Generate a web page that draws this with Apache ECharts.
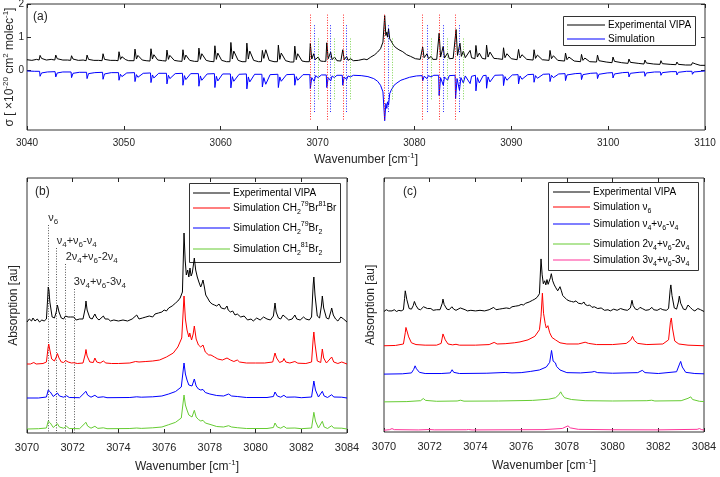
<!DOCTYPE html>
<html><head><meta charset="utf-8">
<script src="https://cdn.jsdelivr.net/npm/echarts@6/dist/echarts.min.js"></script>
<style>html,body{margin:0;padding:0;background:#fff}#c{width:720px;height:477px}</style>
</head><body><div id="c"></div>
<script>
// ---------------- Panel (a): overview, sigma [1e-20 cm2/molec] ----------------
const xTicksA = [3040, 3110, 10];
const yTicksA = [0, 1, 2];
const expA = [
[3040.0,0.32],[3040.5,0.30],[3041.0,0.33],
[3041.25,0.31],[3041.35,0.45],[3041.5,0.36],[3041.65,0.38],[3042.0,0.31],[3042.5,0.33],
[3042.87,0.31],[3042.97,0.46],[3043.12,0.35],[3043.27,0.38],[3043.7,0.31],[3044.2,0.31],
[3044.5,0.30],[3044.6,0.44],[3044.75,0.34],[3044.9,0.37],[3045.3,0.30],[3045.8,0.31],
[3046.1,0.29],[3046.2,0.46],[3046.35,0.33],[3046.5,0.37],[3046.9,0.30],[3047.4,0.30],
[3047.75,0.29],[3047.85,0.50],[3048.0,0.33],[3048.15,0.39],[3048.6,0.30],[3049.1,0.30],
[3049.4,0.29],[3049.5,0.56],[3049.65,0.33],[3049.8,0.41],[3050.2,0.32],[3050.5,0.29],
[3051.05,0.29],[3051.15,0.64],[3051.3,0.34],[3051.45,0.45],[3051.9,0.31],[3052.3,0.29],
[3052.7,0.28],[3052.8,0.65],[3052.95,0.34],[3053.1,0.47],[3053.5,0.31],[3054.0,0.29],
[3054.35,0.28],[3054.45,0.61],[3054.6,0.33],[3054.75,0.45],[3055.2,0.30],[3055.6,0.28],
[3056.0,0.27],[3056.1,0.62],[3056.25,0.32],[3056.4,0.46],[3056.8,0.30],[3057.3,0.27],
[3057.65,0.27],[3057.75,0.67],[3057.9,0.33],[3058.05,0.50],[3058.5,0.30],[3058.9,0.27],
[3059.3,0.26],[3059.4,0.74],[3059.55,0.33],[3059.7,0.52],[3060.1,0.30],[3060.6,0.26],
[3060.95,0.26],[3061.05,0.84],[3061.2,0.34],[3061.35,0.58],[3061.8,0.30],[3062.2,0.26],
[3062.6,0.26],[3062.7,0.82],[3062.85,0.34],[3063.0,0.58],[3063.4,0.30],[3063.9,0.26],
[3064.2,0.26],[3064.3,0.60],[3064.45,0.36],[3064.65,0.62],[3065.0,0.30],[3065.5,0.26],
[3065.85,0.26],[3065.95,0.76],[3066.1,0.33],[3066.25,0.52],[3066.7,0.29],[3067.2,0.25],
[3067.55,0.25],[3067.65,0.73],[3067.8,0.32],[3067.95,0.50],[3068.4,0.28],[3068.8,0.26],
[3069.15,0.26],[3069.25,0.81],[3069.4,0.34],[3069.6,0.50],[3069.75,0.32],[3070.05,0.40],[3070.3,0.28],[3070.6,0.27],
[3070.85,0.27],[3070.95,0.83],[3071.1,0.35],[3071.35,0.55],[3071.5,0.32],[3071.75,0.40],[3072.0,0.29],[3072.4,0.28],
[3072.5,0.28],[3072.6,0.62],[3072.75,0.32],[3073.0,0.42],[3073.15,0.30],[3073.4,0.35],[3073.7,0.29],
[3074.2,0.30],[3074.8,0.34],[3075.1,0.32],[3075.5,0.40],[3075.9,0.47],[3076.2,0.55],[3076.5,0.65],[3076.75,0.85],
[3076.93,1.65],[3077.05,1.05],[3077.15,1.15],[3077.22,1.0],[3077.33,1.25],[3077.45,0.95],[3077.6,0.88],[3077.72,0.92],
[3077.85,0.75],[3078.1,0.68],[3078.4,0.62],[3078.8,0.56],[3079.2,0.47],[3079.6,0.42],[3080.1,0.35],[3080.6,0.33],
[3080.75,0.33],[3080.85,0.70],[3081.0,0.38],[3081.3,0.50],[3081.45,0.35],[3081.72,0.42],[3081.9,0.33],[3082.3,0.33],
[3082.45,0.33],[3082.55,1.12],[3082.7,0.40],[3082.97,0.72],[3083.1,0.37],[3083.42,0.52],[3083.6,0.35],[3084.0,0.36],
[3084.2,0.36],[3084.3,1.23],[3084.45,0.45],[3084.7,0.82],[3084.85,0.42],[3085.05,0.58],[3085.25,0.38],[3085.75,0.60],[3085.9,0.38],[3086.25,0.35],
[3086.35,0.75],[3086.5,0.40],[3086.7,0.52],[3087.0,0.36],[3087.35,0.34],
[3087.45,0.76],[3087.6,0.40],[3087.8,0.55],[3088.2,0.36],[3088.6,0.35],[3089.1,0.33],
[3089.2,0.68],[3089.35,0.38],[3089.55,0.50],[3090.0,0.35],[3090.6,0.32],
[3090.75,0.63],[3090.9,0.37],[3091.1,0.47],[3091.6,0.33],[3092.25,0.31],
[3092.35,0.62],[3092.5,0.36],[3092.7,0.46],[3093.2,0.32],[3093.9,0.30],
[3094.0,0.60],[3094.15,0.35],[3094.35,0.44],[3094.8,0.30],[3095.5,0.28],
[3095.6,0.52],[3095.75,0.32],[3095.95,0.40],[3096.5,0.28],[3097.15,0.26],
[3097.25,0.48],[3097.4,0.30],[3097.6,0.37],[3098.1,0.26],[3098.8,0.25],
[3098.9,0.46],[3099.05,0.29],[3099.25,0.35],[3099.8,0.25],[3100.4,0.23],
[3100.5,0.40],[3100.65,0.27],[3100.85,0.32],[3101.4,0.23],[3102.05,0.21],
[3102.15,0.34],[3102.3,0.24],[3102.5,0.29],[3103.1,0.21],[3103.7,0.19],
[3103.8,0.31],[3103.95,0.22],[3104.15,0.26],[3104.7,0.19],[3105.35,0.18],
[3105.45,0.29],[3105.6,0.20],[3105.8,0.24],[3106.4,0.18],[3107.0,0.17],
[3107.1,0.25],[3107.25,0.18],[3107.45,0.21],[3108.0,0.16],[3108.6,0.16],
[3108.7,0.23],[3108.85,0.17],[3109.05,0.19],[3109.5,0.15],[3110.0,0.15]
];
const simA = [
[3040.0,-0.02],[3040.8,-0.03],
[3041.3,-0.03],[3041.35,-0.18],[3041.5,-0.08],[3041.65,-0.12],[3042.1,-0.05],
[3042.9,-0.04],[3042.97,-0.20],[3043.12,-0.08],[3043.27,-0.13],[3043.7,-0.05],
[3044.55,-0.05],[3044.6,-0.22],[3044.75,-0.09],[3044.9,-0.14],[3045.4,-0.06],
[3046.15,-0.06],[3046.2,-0.25],[3046.35,-0.10],[3046.5,-0.16],[3047.0,-0.07],
[3047.8,-0.06],[3047.85,-0.27],[3048.0,-0.11],[3048.15,-0.17],[3048.7,-0.07],
[3049.45,-0.07],[3049.5,-0.30],[3049.65,-0.12],[3049.8,-0.19],[3050.3,-0.08],
[3051.1,-0.07],[3051.15,-0.34],[3051.3,-0.13],[3051.45,-0.21],[3052.0,-0.09],
[3052.75,-0.08],[3052.8,-0.37],[3052.95,-0.14],[3053.1,-0.23],[3053.6,-0.09],
[3054.4,-0.09],[3054.45,-0.41],[3054.6,-0.15],[3054.75,-0.25],[3055.3,-0.10],
[3056.05,-0.09],[3056.1,-0.45],[3056.25,-0.16],[3056.4,-0.28],[3056.9,-0.10],
[3057.7,-0.10],[3057.75,-0.48],[3057.9,-0.17],[3058.05,-0.30],[3058.6,-0.11],
[3059.35,-0.10],[3059.4,-0.52],[3059.55,-0.18],[3059.7,-0.32],[3060.2,-0.11],
[3061.0,-0.11],[3061.05,-0.53],[3061.2,-0.19],[3061.35,-0.33],[3061.9,-0.12],
[3062.65,-0.11],[3062.7,-0.56],[3062.85,-0.20],[3063.0,-0.35],[3063.5,-0.12],
[3064.25,-0.12],[3064.3,-0.50],[3064.45,-0.22],[3064.65,-0.42],[3065.1,-0.13],
[3065.9,-0.12],[3065.95,-0.52],[3066.1,-0.20],[3066.25,-0.33],[3066.8,-0.13],
[3067.6,-0.12],[3067.65,-0.45],[3067.8,-0.19],[3067.95,-0.30],[3068.5,-0.13],
[3069.2,-0.13],[3069.25,-0.55],[3069.4,-0.22],[3069.65,-0.33],[3069.8,-0.16],[3070.05,-0.22],[3070.4,-0.14],
[3070.9,-0.14],[3070.95,-0.52],[3071.1,-0.22],[3071.36,-0.32],[3071.5,-0.17],[3071.72,-0.22],[3072.0,-0.15],
[3072.55,-0.15],[3072.6,-0.45],[3072.75,-0.20],[3073.0,-0.28],[3073.15,-0.17],[3073.38,-0.20],[3073.7,-0.15],
[3074.5,-0.16],[3075.2,-0.19],[3075.8,-0.25],[3076.2,-0.33],[3076.5,-0.45],[3076.75,-0.65],[3076.93,-1.52],
[3077.05,-1.0],[3077.15,-1.15],[3077.22,-0.95],[3077.33,-1.05],[3077.45,-0.7],[3077.6,-0.6],[3077.73,-0.65],
[3077.9,-0.45],[3078.2,-0.38],[3078.6,-0.30],[3079.0,-0.26],[3079.5,-0.21],[3080.2,-0.17],[3080.8,-0.16],
[3080.85,-0.32],[3081.0,-0.18],[3081.3,-0.25],[3081.45,-0.16],[3081.71,-0.20],[3082.0,-0.15],[3082.5,-0.15],
[3082.55,-0.76],[3082.7,-0.22],[3082.98,-0.45],[3083.1,-0.20],[3083.42,-0.30],[3083.6,-0.16],[3084.2,-0.15],
[3084.25,-0.86],[3084.4,-0.25],[3084.65,-0.60],[3084.8,-0.22],[3085.05,-0.38],[3085.25,-0.17],[3085.75,-0.40],[3085.9,-0.18],[3086.3,-0.15],
[3086.35,-0.62],[3086.5,-0.22],[3086.7,-0.38],[3087.1,-0.16],[3087.4,-0.15],
[3087.45,-0.54],[3087.6,-0.20],[3087.8,-0.35],[3088.3,-0.15],[3089.15,-0.14],
[3089.2,-0.46],[3089.35,-0.19],[3089.55,-0.30],[3090.1,-0.14],[3090.7,-0.13],
[3090.75,-0.41],[3090.9,-0.17],[3091.1,-0.27],[3091.7,-0.13],[3092.3,-0.12],
[3092.35,-0.36],[3092.5,-0.16],[3092.7,-0.24],[3093.3,-0.12],[3093.95,-0.11],
[3094.0,-0.34],[3094.15,-0.15],[3094.35,-0.22],[3094.9,-0.11],[3095.55,-0.10],
[3095.6,-0.31],[3095.75,-0.14],[3095.95,-0.20],[3096.6,-0.10],[3097.2,-0.09],
[3097.25,-0.28],[3097.4,-0.13],[3097.6,-0.18],[3098.2,-0.09],[3098.85,-0.08],
[3098.9,-0.25],[3099.05,-0.12],[3099.25,-0.16],[3099.9,-0.08],[3100.45,-0.07],
[3100.5,-0.23],[3100.65,-0.11],[3100.85,-0.14],[3101.5,-0.07],[3102.1,-0.06],
[3102.15,-0.20],[3102.3,-0.09],[3102.5,-0.12],[3103.2,-0.06],[3103.75,-0.05],
[3103.8,-0.18],[3103.95,-0.08],[3104.15,-0.10],[3104.8,-0.05],[3105.4,-0.05],
[3105.45,-0.15],[3105.6,-0.07],[3105.8,-0.09],[3106.5,-0.04],[3107.05,-0.04],
[3107.1,-0.14],[3107.25,-0.06],[3107.45,-0.08],[3108.1,-0.03],[3108.65,-0.03],
[3108.7,-0.12],[3108.85,-0.05],[3109.05,-0.06],[3109.6,-0.03],[3110.0,-0.02]
];
// assignment markers (dotted) in panel (a): positions and vertical extents
const markRedX   = [3069.25, 3070.95, 3072.60, 3076.93, 3080.85, 3082.55, 3084.25];
const markBlueX  = [3069.65, 3071.36, 3073.00, 3077.33, 3081.30, 3082.98, 3084.65];
const markGreenX = [3070.05, 3071.72, 3073.38, 3077.73, 3081.71, 3083.42, 3085.05];
const markRedY = [1.68, -1.52], markBlueY = [1.36, -1.26], markGreenY = [0.96, -0.91];

// ---------------- Panel (b) & (c): zoomed spectra, absorption [au] ----------------
const xTicksBC = [3070, 3084, 2];
const expB = [
[3070.0,-2],[3070.1,1],[3070.2,-1],[3070.26,2],[3070.35,-1],[3070.45,1],[3070.55,-2],[3070.65,0],[3070.75,-1],[3070.85,1],
[3070.9,20],[3070.93,33],[3070.96,30],[3071.0,18],[3071.1,3],[3071.2,2],
[3071.28,8],[3071.33,15],[3071.4,8],[3071.5,2],[3071.6,1],
[3071.68,4],[3071.73,6],[3071.8,3],[3071.9,3],[3071.95,1],[3072.05,3],[3072.15,0],[3072.3,1],[3072.45,1],
[3072.55,12],[3072.58,19],[3072.63,10],[3072.75,2],[3072.85,1],
[3072.97,6],[3073.05,2],[3073.15,0],
[3073.34,4],[3073.42,1],[3073.55,1],[3073.65,-1],[3073.8,0],[3074.0,-1],[3074.2,0],[3074.4,-1],[3074.6,1],
[3074.8,5],[3074.9,1],[3075.05,2],[3075.2,3],[3075.35,4],[3075.5,3],[3075.6,6],[3075.75,7],[3075.9,8],[3076.0,10],
[3076.1,9],[3076.2,12],[3076.35,14],[3076.5,17],[3076.6,19],[3076.7,22],[3076.8,28],
[3076.87,87],[3076.92,60],[3076.97,45],[3077.03,50],[3077.08,43],[3077.13,52],[3077.18,44],[3077.23,47],[3077.28,55],
[3077.32,62],[3077.38,50],[3077.45,43],[3077.52,38],[3077.6,33],[3077.65,36],[3077.7,40],[3077.76,33],[3077.82,25],
[3077.9,22],[3078.0,18],[3078.1,16],[3078.2,15],[3078.3,14],[3078.4,16],[3078.5,12],[3078.55,13],[3078.65,11],
[3078.75,14],[3078.8,10],[3078.9,8],[3079.0,9],[3079.1,5],[3079.2,6],[3079.35,3],[3079.5,4],[3079.65,0],[3079.8,1],
[3079.9,-1],[3080.05,2],[3080.2,0],[3080.35,3],[3080.5,1],[3080.65,0],[3080.78,4],
[3080.85,17],[3080.9,8],[3081.0,2],[3081.1,1],
[3081.2,5],[3081.24,7],[3081.3,3],[3081.45,0],[3081.6,1],
[3081.72,5],[3081.8,1],[3081.95,0],[3082.1,3],[3082.2,1],[3082.35,0],[3082.45,3],
[3082.52,35],[3082.55,43],[3082.6,25],[3082.7,4],[3082.8,2],
[3082.88,14],[3082.92,24],[3082.98,12],[3083.1,2],[3083.2,1],
[3083.3,9],[3083.33,12],[3083.4,5],[3083.5,1],[3083.6,-1],
[3083.73,3],[3083.77,5],[3083.85,1],[3083.93,-1],[3084.0,-2]
];
const simB7981 = [
[3070.0,0],[3070.15,0],[3070.3,1.5],[3070.4,0],[3070.7,0.5],[3070.85,2],
[3070.92,16],[3070.95,20],[3071.0,14],[3071.08,5],[3071.2,3],
[3071.28,7],[3071.33,10.5],[3071.4,6],[3071.5,2],[3071.6,1.5],
[3071.69,3.5],[3071.73,4.5],[3071.8,2],[3071.95,1],[3072.05,1.3],[3072.2,0.5],[3072.45,1],
[3072.55,10],[3072.58,14.5],[3072.63,8],[3072.75,2],[3072.9,1.5],
[3072.97,6],[3073.05,2],[3073.2,1],
[3073.34,3],[3073.45,1],[3073.7,0.5],[3074.0,0.5],[3074.5,1],[3074.75,2.5],[3074.82,3.5],[3074.9,2],[3075.2,2.5],
[3075.5,3],[3075.8,4],[3076.1,7],[3076.4,11],[3076.6,17],[3076.77,26],
[3076.87,68],[3076.93,45],[3077.0,34],[3077.08,27],[3077.12,31],[3077.2,24],[3077.27,30],[3077.32,38],[3077.4,25],
[3077.5,19],[3077.6,17],[3077.7,19],[3077.8,12],[3077.95,9],[3078.05,9],[3078.2,7],[3078.35,5],[3078.55,4],
[3078.75,6],[3078.82,7],[3078.9,4],[3079.05,2.5],[3079.2,4],[3079.3,2],[3079.6,1],[3080.0,1],[3080.4,1],[3080.75,2],
[3080.85,11],[3080.92,6],[3081.05,1.5],[3081.2,3],[3081.24,5.5],[3081.32,2],[3081.5,1],[3081.72,2.5],[3081.85,0.8],
[3082.2,0.5],[3082.45,2],
[3082.52,25],[3082.55,32],[3082.6,20],[3082.7,3],[3082.85,1.5],
[3082.92,15],[3082.98,6],[3083.1,1],
[3083.33,7],[3083.42,2],[3083.6,0.5],[3083.77,2],[3083.85,0.5],[3084.0,0]
];
const simB7979 = [
[3070.0,0],[3070.5,0],[3070.85,1],[3070.93,8],[3070.96,10],[3071.02,6],[3071.15,1.5],
[3071.33,5],[3071.42,2],[3071.6,0.8],[3071.73,2.3],[3071.85,0.5],[3072.3,0.3],
[3072.58,6.7],[3072.65,3],[3072.8,0.8],[3072.97,2.7],[3073.1,0.6],[3073.34,1.2],[3073.5,0.3],[3074.5,0.5],
[3074.8,1.2],[3075.0,0.8],[3075.5,1.2],[3075.9,2],[3076.2,4],[3076.5,6.5],[3076.75,11],
[3076.87,35],[3076.93,24],[3077.0,18],[3077.08,13],[3077.13,15],[3077.22,12],[3077.32,19],[3077.4,12],[3077.5,9],
[3077.6,8],[3077.7,8.5],[3077.8,5.5],[3078.0,4],[3078.3,2.5],[3078.6,2],[3078.82,4],[3078.95,2],[3079.2,1.5],
[3079.6,0.5],[3080.5,0.5],[3080.78,1.5],
[3080.85,6],[3080.95,2],[3081.1,0.8],[3081.24,2.7],[3081.35,0.8],[3081.72,1],[3082.0,0.3],[3082.45,1],
[3082.55,17],[3082.62,8],[3082.75,1],[3082.92,6.7],[3083.0,2],[3083.15,0.5],[3083.33,3.3],[3083.42,1],
[3083.77,0.8],[3084.0,0]
];
const simB8181 = [
[3070.0,0],[3070.5,0.3],[3070.85,1],[3070.93,8],[3070.96,10],[3071.02,6],[3071.15,1.5],
[3071.33,5.3],[3071.42,2],[3071.6,0.8],[3071.73,2.7],[3071.85,0.5],[3072.3,0.3],
[3072.58,6.7],[3072.65,3],[3072.8,0.8],[3072.97,2.7],[3073.1,0.6],[3073.34,1.2],[3073.5,0.3],[3074.5,0.5],
[3074.8,1],[3075.0,0.6],[3075.5,1.2],[3075.9,2],[3076.2,4.3],[3076.5,6.7],[3076.75,11],
[3076.87,34],[3076.93,24],[3077.0,19],[3077.08,14],[3077.13,14.5],[3077.22,12],[3077.32,18.7],[3077.4,12],
[3077.5,9.5],[3077.6,8],[3077.7,8.7],[3077.8,6],[3078.05,4.3],[3078.3,2.5],[3078.6,2],[3078.82,3.3],[3078.95,2],
[3079.2,1.3],[3079.6,0.5],[3080.5,0.5],[3080.78,1.5],
[3080.85,6],[3080.95,2],[3081.1,0.8],[3081.24,2.7],[3081.35,0.8],[3081.72,1],[3082.0,0.3],[3082.45,1],
[3082.55,16.7],[3082.62,8],[3082.75,1],[3082.92,7.7],[3083.0,2],[3083.15,0.5],[3083.33,3.3],[3083.42,1],
[3083.77,0.8],[3084.0,0]
];
const offsetsB = [113, 69, 35, 4];          // vertical offsets of traces in panel (b)
const yMaxB = 255;

// panel (c) simulated bands (same au scale as panel c axis)
const simC_v6 = [
[3070.0,0],[3070.5,0.5],[3070.85,3],[3070.93,22],[3070.96,31],[3070.99,29],[3071.02,32],[3071.08,15],[3071.2,5],
[3071.4,2],[3071.8,1],[3072.3,1],[3072.5,4],[3072.58,20],[3072.62,21.5],[3072.68,10],[3072.8,3],[3073.0,1.5],
[3073.15,2.5],[3073.3,1],[3074.0,1],[3074.6,2],[3074.82,5.7],[3074.95,3],[3075.3,3.5],[3075.7,5],[3075.95,6.5],
[3076.3,10],[3076.6,16],[3076.8,27],[3076.87,50],[3076.93,89],[3076.98,55],[3077.05,38],[3077.1,30],[3077.17,34],
[3077.25,22],[3077.35,14],[3077.5,10],[3077.7,5],[3078.0,3],[3078.5,3],[3078.8,6],[3078.87,7.3],[3078.95,4],
[3079.3,2],[3080.0,2],[3080.6,4],[3080.8,10],[3080.87,15.8],[3080.95,9],[3081.1,4],[3081.5,2],[3082.2,3],
[3082.45,10],[3082.53,40],[3082.57,47],[3082.62,30],[3082.72,8],[3082.9,3],[3083.3,1],[3084.0,0]
];
const simC_v4 = [
[3070.0,0],[3070.8,0.5],[3071.2,2],[3071.3,8],[3071.36,14],[3071.42,9],[3071.55,3],[3071.8,1],[3072.5,1],
[3072.9,2],[3072.98,7.4],[3073.05,3],[3073.3,1],[3074.5,1.5],[3075.3,2.8],[3075.6,2],[3076.0,2.5],[3076.4,4.5],
[3076.8,7],[3077.1,12],[3077.25,20],[3077.33,40],[3077.4,22],[3077.5,19],[3077.55,13],[3077.7,7],[3078.0,2.5],
[3078.6,2],[3079.1,3.5],[3079.2,4.5],[3079.35,2.5],[3080.0,1.5],[3081.1,2.5],[3081.3,6.3],[3081.42,2.5],
[3082.0,1],[3082.8,4],[3082.93,17],[3082.98,21.5],[3083.05,12],[3083.2,3],[3083.6,1],[3084.0,0.5]
];
const simC_2v4 = [
[3070.0,0],[3071.0,0.5],[3071.6,2],[3071.72,5.7],[3071.82,2.5],[3072.3,1],[3073.2,1.5],[3073.35,2.8],
[3073.5,1.2],[3075.0,1.5],[3076.5,2.5],[3077.2,4.5],[3077.5,7],[3077.65,12],[3077.73,17],[3077.8,12],
[3077.9,7],[3078.2,4],[3078.8,2],[3080.0,1.5],[3081.5,2],[3081.71,2.8],[3081.85,1.5],[3083.0,2],[3083.3,6],
[3083.42,8.5],[3083.5,4],[3083.8,1],[3084.0,0.5]
];
const simC_3v4 = [
[3070.0,0],[3070.25,1],[3070.35,2.8],[3070.45,1],[3071.5,0.5],[3072.0,1.2],[3072.08,1.7],[3072.2,0.6],
[3073.6,0.8],[3073.7,1.2],[3073.85,0.5],[3077.0,1],[3077.8,3],[3078.05,7.4],[3078.15,4],[3078.5,1.5],
[3080.0,0.8],[3082.0,0.6],[3083.7,1.5],[3083.8,2.8],[3083.9,1],[3084.0,0.5]
];
const offsetsC = [206, 146, 98, 51, 3];      // vertical offsets of traces in panel (c)
const yMaxC = 430;

// band-origin annotations in panel (b)
const annoX   = [3070.93, 3071.30, 3071.69, 3072.05];
const annoTop = [208, 185, 169, 144];
const annoText = [
  '{g|ν}{d|6}',
  '{g|ν}{d|4}{g|+ν}{d|6}{g|-ν}{d|4}',
  '{g|2ν}{d|4}{g|+ν}{d|6}{g|-2ν}{d|4}',
  '{g|3ν}{d|4}{g|+ν}{d|6}{g|-3ν}{d|4}'
];

// series names and legend labels (rich text markup)
const namesA = ['Experimental VIPA', 'Simulation'];
const namesB = ['Experimental VIPA', 'Simulation CH2-79Br81Br', 'Simulation CH2-79Br2', 'Simulation CH2-81Br2'];
const namesC = ['Experimental VIPA', 'Simulation v6', 'Simulation v4+v6-v4', 'Simulation 2v4+v6-2v4', 'Simulation 3v4+v6-3v4'];
const legendRich = {
  'Experimental VIPA': '{m|Experimental VIPA}',
  'Simulation': '{m|Simulation}',
  'Simulation CH2-79Br81Br': '{m|Simulation CH}{b|2}{p|79}{m|Br}{p|81}{m|Br}',
  'Simulation CH2-79Br2': '{m|Simulation CH}{b|2}{p|79}{m|Br}{b|2}',
  'Simulation CH2-81Br2': '{m|Simulation CH}{b|2}{p|81}{m|Br}{b|2}',
  'Simulation v6': '{m|Simulation ν}{b|6}',
  'Simulation v4+v6-v4': '{m|Simulation ν}{b|4}{m|+ν}{b|6}{m|-ν}{b|4}',
  'Simulation 2v4+v6-2v4': '{m|Simulation 2ν}{b|4}{m|+ν}{b|6}{m|-2ν}{b|4}',
  'Simulation 3v4+v6-3v4': '{m|Simulation 3ν}{b|4}{m|+ν}{b|6}{m|-3ν}{b|4}'
};
const colBlack = '#000000', colRed = '#ff0000', colBlue = '#0000ff', colGreen = '#66cc33', colPink = '#ff3399';
const colorsA = [colBlack, colBlue];
const colorsB = [colBlack, colRed, colBlue, colGreen];
const colorsC = [colBlack, colRed, colBlue, colGreen, colPink];

// legend box layout (pixels): box [x, y, w, h], sample line x-range, text x, row centres
const legLayoutA = {box: [563, 16, 132, 29], lx: [567, 605], tx: 608, rows: [25, 39]};
const legLayoutB = {box: [189, 183, 151, 79], lx: [193, 230], tx: 233, rows: [193, 208, 228, 249]};
const legLayoutC = {box: [548, 182, 150, 88], lx: [553, 590], tx: 593, rows: [192, 207, 224, 244, 260]};

// ------------------------------------------------------------------
const FONT = 'Liberation Sans, Arial, Helvetica, sans-serif';
const AX = '#262626';
const shift = (pts, off) => pts.map(p => [p[0], p[1] + off]);

function xAx(grid, t, pos, fs, nameGap, margin) {
  const a = {
    type: 'value', gridIndex: grid, position: pos, min: t[0], max: t[1], interval: t[2],
    axisLine: {show: false, onZero: false}, splitLine: {show: false},
    axisTick: {show: true, inside: true, length: 4, lineStyle: {color: AX}},
    axisLabel: {show: pos === 'bottom', fontFamily: FONT, fontSize: fs, color: AX, margin: margin || 5,
      formatter: v => String(v)},
    nameMoveOverlap: false
  };
  if (pos === 'bottom') {
    a.name = '{t|Wavenumber [cm}{s|-1}{t|]}';
    a.nameLocation = 'middle'; a.nameGap = nameGap;
    a.nameTextStyle = {fontFamily: FONT, color: AX, rich: {
      t: {fontFamily: FONT, fontSize: 12, lineHeight: 18, color: AX},
      s: {fontFamily: FONT, fontSize: 8, height: 10, verticalAlign: 'top', color: AX}}};
  }
  return a;
}
function line(name, data, color, xi, yi) {
  return {type: 'line', name, data, xAxisIndex: xi, yAxisIndex: yi, symbol: 'none', showSymbol: false,
    lineStyle: {color, width: 1}, itemStyle: {color}, clip: true, animation: false};
}
function marks(xs, ys, color) {
  return {type: 'lines', coordinateSystem: 'cartesian2d', xAxisIndex: 0, yAxisIndex: 0, polyline: false,
    silent: true, animation: false, z: 5,
    lineStyle: {color, width: 1, type: [1, 1.6], opacity: 0.85},
    data: xs.map(x => ({coords: [[x, ys[0]], [x, ys[1]]]}))};
}
const legRich = {
  m: {fontFamily: FONT, fontSize: 10, lineHeight: 20, fill: '#000'},
  p: {fontFamily: FONT, fontSize: 7, height: 12, verticalAlign: 'top', fill: '#000'},
  b: {fontFamily: FONT, fontSize: 7, height: 12, verticalAlign: 'bottom', fill: '#000'}
};
function legendGraphic(L, names, cols) {
  const children = [{type: 'rect', shape: {x: L.box[0] + 0.5, y: L.box[1] + 0.5, width: L.box[2], height: L.box[3]},
    style: {fill: '#fff', stroke: '#333', lineWidth: 1}}];
  names.forEach((n, i) => {
    const y = Math.round(L.rows[i]);
    children.push({type: 'line', shape: {x1: L.lx[0], y1: y, x2: L.lx[1], y2: y},
      style: {stroke: cols[i], lineWidth: 1.2}});
    children.push({type: 'text', x: L.tx, y: L.rows[i],
      style: {text: legendRich[n], rich: legRich, fontFamily: FONT, fontSize: 10, fill: '#000',
        align: 'left', verticalAlign: 'middle'}});
  });
  return {type: 'group', z: 100, silent: true, children};
}
const gridBase = {show: true, borderColor: '#333', borderWidth: 1, backgroundColor: 'transparent',
  containLabel: false, outerBoundsMode: 'none'};

const chart = echarts.init(document.getElementById('c'), null, {renderer: 'canvas'});
const option = {
  animation: false,
  backgroundColor: '#fff',
  textStyle: {fontFamily: FONT},
  grid: [
    Object.assign({left: 27, top: 4, width: 678, height: 126}, gridBase),
    Object.assign({left: 27, top: 178, width: 320, height: 255}, gridBase),
    Object.assign({left: 384, top: 178, width: 320, height: 254}, gridBase)
  ],
  xAxis: [
    xAx(0, xTicksA, 'bottom', 10, 21, 8), xAx(0, xTicksA, 'top', 10),
    xAx(1, xTicksBC, 'bottom', 11, 25, 9), xAx(1, xTicksBC, 'top', 11),
    xAx(2, xTicksBC, 'bottom', 11, 25, 9), xAx(2, xTicksBC, 'top', 11)
  ],
  yAxis: [
    {type: 'value', gridIndex: 0, position: 'left', min: -1.8, max: 2, nameMoveOverlap: false,
      axisLine: {show: false, onZero: false}, splitLine: {show: false},
      axisTick: {show: true, inside: true, length: 4, customValues: yTicksA, lineStyle: {color: AX}},
      axisLabel: {show: true, customValues: yTicksA, fontFamily: FONT, fontSize: 10, color: AX, margin: 3},
      name: '{t|σ [ ×10}{s|-20}{t| cm}{s|2}{t| molec}{s|-1}{t|]}', nameLocation: 'middle', nameGap: 8,
      nameTextStyle: {fontFamily: FONT, color: AX, rich: {
        t: {fontFamily: FONT, fontSize: 12, lineHeight: 18, color: AX},
        s: {fontFamily: FONT, fontSize: 8, height: 10, verticalAlign: 'top', color: AX}}}},
    {type: 'value', gridIndex: 0, position: 'right', min: -1.8, max: 2,
      axisLine: {show: false, onZero: false}, splitLine: {show: false},
      axisTick: {show: true, inside: true, length: 4, customValues: yTicksA, lineStyle: {color: AX}},
      axisLabel: {show: false}},
    {type: 'value', gridIndex: 1, min: 0, max: yMaxB, axisLine: {show: false, onZero: false}, splitLine: {show: false},
      axisTick: {show: false}, axisLabel: {show: false}, nameMoveOverlap: false,
      name: 'Absorption [au]', nameLocation: 'middle', nameGap: 7,
      nameTextStyle: {fontFamily: FONT, fontSize: 12, color: AX}},
    {type: 'value', gridIndex: 2, min: 0, max: yMaxC, axisLine: {show: false, onZero: false}, splitLine: {show: false},
      axisTick: {show: false}, axisLabel: {show: false}, nameMoveOverlap: false,
      name: 'Absorption [au]', nameLocation: 'middle', nameGap: 7,
      nameTextStyle: {fontFamily: FONT, fontSize: 12, color: AX}}
  ],
  graphic: [
    {type: 'text', left: 33, top: 11, style: {text: '(a)', font: '12px ' + FONT, fill: AX}},
    {type: 'text', left: 35, top: 186, style: {text: '(b)', font: '12px ' + FONT, fill: AX}},
    {type: 'text', left: 403, top: 186, style: {text: '(c)', font: '12px ' + FONT, fill: AX}},
    legendGraphic(legLayoutA, namesA, colorsA),
    legendGraphic(legLayoutB, namesB, colorsB),
    legendGraphic(legLayoutC, namesC, colorsC)
  ],
  series: [
    line(namesA[0], expA, colBlack, 0, 0),
    line(namesA[1], simA, colBlue, 0, 0),
    marks(markRedX, markRedY, colRed),
    marks(markBlueX, markBlueY, colBlue),
    marks(markGreenX, markGreenY, colGreen),

    line(namesB[0], shift(expB, offsetsB[0]), colBlack, 2, 2),
    line(namesB[1], shift(simB7981, offsetsB[1]), colRed, 2, 2),
    line(namesB[2], shift(simB7979, offsetsB[2]), colBlue, 2, 2),
    line(namesB[3], shift(simB8181, offsetsB[3]), colGreen, 2, 2),
    {type: 'lines', coordinateSystem: 'cartesian2d', xAxisIndex: 2, yAxisIndex: 2, polyline: false,
      silent: true, animation: false, z: 1,
      lineStyle: {color: '#555', width: 1, type: [1, 1.6], opacity: 1},
      label: {show: true, position: 'start', distance: 0, align: 'left', verticalAlign: 'bottom', opacity: 1,
        formatter: p => annoText[p.dataIndex], color: AX,
        rich: {g: {fontFamily: FONT, fontSize: 11, lineHeight: 14, color: AX, opacity: 1},
               d: {fontFamily: FONT, fontSize: 8, height: 6, verticalAlign: 'bottom', color: AX, opacity: 1}}},
      data: annoX.map((x, i) => ({coords: [[x, annoTop[i]], [x, 0]]}))},

    line(namesC[0], shift(expB, offsetsC[0]), colBlack, 4, 3),
    line(namesC[1], shift(simC_v6, offsetsC[1]), colRed, 4, 3),
    line(namesC[2], shift(simC_v4, offsetsC[2]), colBlue, 4, 3),
    line(namesC[3], shift(simC_2v4, offsetsC[3]), colGreen, 4, 3),
    line(namesC[4], shift(simC_3v4, offsetsC[4]), colPink, 4, 3)
  ]
};
chart.setOption(option);
</script></body></html>
